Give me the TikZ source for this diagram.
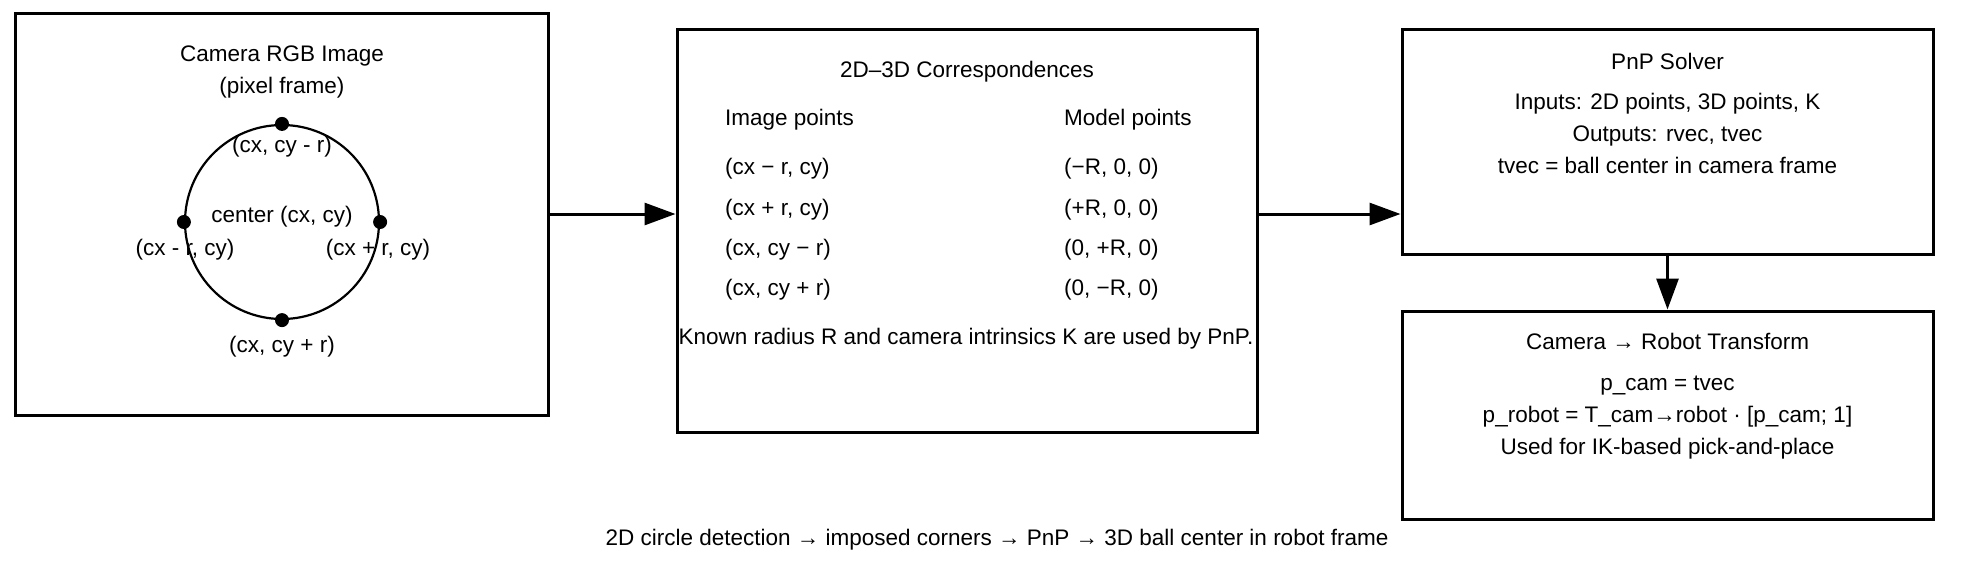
\documentclass[tikz,border=0pt]{standalone}
\usepackage{fontspec}
\setmainfont{Liberation Sans}
\usetikzlibrary{arrows.meta}
\begin{document}
\begin{tikzpicture}[x=1pt,y=-1pt,
  box/.style={draw=black, line width=3pt, inner sep=0pt},
  txt/.style={inner sep=0pt, anchor=base, font=\fontsize{22.5}{26}\selectfont},
  ltxt/.style={txt, anchor=base west},
  arr/.style={line width=3pt, -{Triangle[length=31pt,width=22pt]}},
  dot/.style={circle, fill=black, inner sep=0pt, minimum size=14pt}]
\useasboundingbox (0,0) rectangle (1965,571);
% boxes
\node[box, minimum width=533pt, minimum height=402pt] (b1) at (281.5,214) {};
\node[box, minimum width=580pt, minimum height=403pt] (b2) at (967,230.5) {};
\node[box, minimum width=531pt, minimum height=225pt] (b3) at (1667.5,141.5) {};
\node[box, minimum width=531pt, minimum height=208pt] (b4) at (1667.5,415) {};
% box 1
\node[txt] (t11) at (282,61) {Camera RGB Image};
\node[txt] (t12) at (282,93) {(pixel frame)};
\node[draw, circle, line width=2.2pt, minimum size=194pt, inner sep=0pt] (ball) at (282,222) {};
\node[dot] (ptop) at (ball.north) {};
\node[dot] (pbot) at (ball.south) {};
\node[dot] (pleft) at (ball.west) {};
\node[dot] (pright) at (ball.east) {};
\node[txt] (ltop) at (282,152) {(cx, cy - r)};
\node[txt] (lcen) at (282,222) {center (cx, cy)};
\node[txt] (lleft) at (185,255) {(cx - r, cy)};
\node[txt] (lright) at (378,255) {(cx + r, cy)};
\node[txt] (lbot) at (282,352) {(cx, cy + r)};
% box 2
\node[txt] (t21) at (967,77) {2D–3D Correspondences};
\node[ltxt] (h1) at (725,125) {Image points};
\node[ltxt] (h2) at (1064,125) {Model points};
\node[ltxt] (a1) at (725,174) {(cx − r, cy)};
\node[ltxt] (a2) at (725,215) {(cx + r, cy)};
\node[ltxt] (a3) at (725,255) {(cx, cy − r)};
\node[ltxt] (a4) at (725,295) {(cx, cy + r)};
\node[ltxt] (m1) at (1064,174) {(−R, 0, 0)};
\node[ltxt] (m2) at (1064,215) {(+R, 0, 0)};
\node[ltxt] (m3) at (1064,255) {(0, +R, 0)};
\node[ltxt] (m4) at (1064,295) {(0, −R, 0)};
\node[txt] (t22) at (966,344) {Known radius R and camera intrinsics K are used by PnP.};
% box 3
\node[txt] (t31) at (1667.5,69) {PnP Solver};
\node[txt] (t32) at (1667.5,109) {Inputs: 2D points, 3D points, K};
\node[txt] (t33) at (1667.5,141) {Outputs: rvec, tvec};
\node[txt] (t34) at (1667.5,173) {tvec = ball center in camera frame};
% box 4
\node[txt] (t41) at (1667.5,349) {Camera → Robot Transform};
\node[txt] (t42) at (1667.5,390) {p\_cam = tvec};
\node[txt] (t43) at (1667.5,422) {p\_robot = T\_cam→robot · [p\_cam; 1]};
\node[txt] (t44) at (1667.5,454) {Used for IK-based pick-and-place};
% caption
\node[txt] (cap) at (997,545) {2D circle detection → imposed corners → PnP → 3D ball center in robot frame};
% arrows
\draw[arr] (b1.east) -- (b1.east -| b2.west);
\draw[arr] (b2.east |- b1.east) -- (b1.east -| b3.west);
\draw[arr] (b3.south) -- (b4.north);
\end{tikzpicture}
\end{document}
